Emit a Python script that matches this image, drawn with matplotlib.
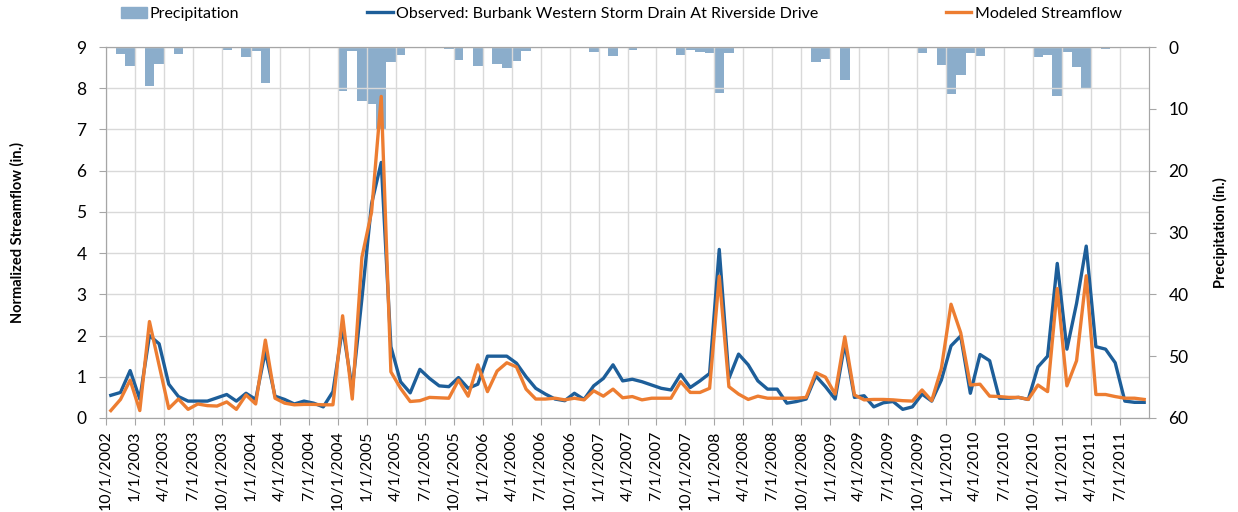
import numpy as np
import matplotlib
matplotlib.use('Agg')
import matplotlib.pyplot as plt
from matplotlib.patches import Patch
from matplotlib.lines import Line2D

plt.rcParams['font.family'] = ['Lato', 'DejaVu Sans']

# monthly values, Oct 2002 .. Sep 2011
observed = [0.55, 0.62, 1.15, 0.46, 2.0, 1.8, 0.82, 0.52, 0.41, 0.41, 0.41, 0.49, 0.57, 0.41, 0.6, 0.45, 1.62, 0.53,
            0.45, 0.34, 0.41, 0.36, 0.27, 0.64, 2.2, 0.7, 2.9, 5.2, 6.2, 1.73, 0.88, 0.61, 1.18, 0.96, 0.78, 0.76,
            0.98, 0.72, 0.82, 1.5, 1.5, 1.5, 1.33, 1.0, 0.72, 0.58, 0.46, 0.42, 0.6, 0.45, 0.78, 0.96, 1.29, 0.9,
            0.94, 0.88, 0.8, 0.72, 0.68, 1.06, 0.74, 0.9, 1.08, 4.09, 0.96, 1.55, 1.29, 0.9, 0.7, 0.7, 0.36, 0.4,
            0.46, 1.02, 0.76, 0.46, 1.81, 0.5, 0.54, 0.27, 0.37, 0.4, 0.21, 0.27, 0.58, 0.41, 0.92, 1.75, 1.99, 0.6,
            1.54, 1.39, 0.48, 0.48, 0.5, 0.45, 1.24, 1.5, 3.75, 1.67, 2.78, 4.17, 1.73, 1.67, 1.34, 0.41, 0.38, 0.38]

modeled = [0.18, 0.45, 0.92, 0.18, 2.34, 1.28, 0.23, 0.46, 0.21, 0.34, 0.3, 0.29, 0.39, 0.21, 0.56, 0.34, 1.89, 0.48,
           0.36, 0.32, 0.33, 0.33, 0.32, 0.32, 2.48, 0.46, 3.9, 5.0, 7.8, 1.12, 0.72, 0.4, 0.42, 0.5, 0.49, 0.48,
           0.92, 0.53, 1.29, 0.64, 1.14, 1.34, 1.24, 0.7, 0.46, 0.46, 0.48, 0.44, 0.48, 0.44, 0.66, 0.53, 0.7, 0.49,
           0.52, 0.44, 0.48, 0.48, 0.48, 0.88, 0.62, 0.62, 0.72, 3.44, 0.76, 0.58, 0.45, 0.53, 0.48, 0.48, 0.48, 0.48,
           0.5, 1.1, 0.99, 0.58, 1.97, 0.56, 0.44, 0.45, 0.45, 0.44, 0.42, 0.41, 0.68, 0.42, 1.2, 2.76, 2.07, 0.8,
           0.82, 0.53, 0.52, 0.5, 0.5, 0.45, 0.8, 0.64, 3.14, 0.78, 1.39, 3.45, 0.57, 0.57, 0.52, 0.48, 0.48, 0.45]

precip = [0.1, 1.19, 3.07, 0, 6.25, 2.8, 0, 1.19, 0.15, 0, 0, 0, 0.54, 0, 1.67, 0.59, 5.77, 0.15,
          0.15, 0, 0, 0, 0, 0, 7.06, 0.65, 8.73, 9.2, 13.3, 2.48, 1.35, 0.05, 0, 0, 0, 0.3,
          2.1, 0.1, 3.07, 0, 2.7, 3.45, 2.3, 0.65, 0, 0, 0, 0.1, 0, 0, 0.75, 0, 1.5, 0,
          0.55, 0, 0, 0, 0, 1.35, 0.5, 0.75, 0.9, 7.5, 1.0, 0.1, 0, 0.1, 0, 0, 0, 0,
          0.2, 2.5, 2.0, 0, 5.4, 0.15, 0, 0, 0, 0, 0, 0, 0.9, 0, 2.9, 7.65, 4.5, 1.0,
          1.4, 0.15, 0, 0, 0, 0, 1.56, 1.3, 8.0, 0.85, 3.3, 6.6, 0, 0.25, 0, 0, 0, 0]

date_labels = ['10/1/2002', '1/1/2003', '4/1/2003', '7/1/2003', '10/1/2003', '1/1/2004', '4/1/2004', '7/1/2004',
               '10/1/2004', '1/1/2005', '4/1/2005', '7/1/2005', '10/1/2005', '1/1/2006', '4/1/2006', '7/1/2006',
               '10/1/2006', '1/1/2007', '4/1/2007', '7/1/2007', '10/1/2007', '1/1/2008', '4/1/2008', '7/1/2008',
               '10/1/2008', '1/1/2009', '4/1/2009', '7/1/2009', '10/1/2009', '1/1/2010', '4/1/2010', '7/1/2010',
               '10/1/2010', '1/1/2011', '4/1/2011', '7/1/2011']

blue = '#1D5E99'
orange = '#ED7D31'
barc = '#8BADCB'
gray = '#A6A6A6'

fig = plt.figure(figsize=(12.38, 5.12), dpi=100)
ax = fig.add_axes([106/1238, 94/512, 1043/1238, 371/512])
ax2 = ax.twinx()

x = np.arange(len(observed)) + 0.5

# precipitation hangs from the top on the right axis
ax2.bar(x, precip, width=1.0, color=barc)
ax2.set_ylim(60, 0)
ax2.set_yticks(range(0, 61, 10))
ax.set_zorder(ax2.get_zorder() + 1)
ax.patch.set_visible(False)

ax.plot(x, observed, color=blue, lw=2.4)
ax.plot(x, modeled, color=orange, lw=2.4)

ax.set_xlim(0, len(observed))
ax.set_ylim(0, 9)
ax.set_yticks(range(10))
ax.set_xticks(np.arange(0, len(observed), 3))
ax.set_xticklabels(date_labels, rotation=90)
ax.grid(True, color='#D9D9D9', lw=1)

for a in (ax, ax2):
    for s in a.spines.values():
        s.set_color(gray)
ax.tick_params(axis='x', length=5, color=gray, labelsize=11.5, pad=4)
ax.tick_params(axis='y', length=5, color=gray, labelsize=12.5, pad=9)
ax2.tick_params(axis='y', length=5, color=gray, labelsize=12.5, pad=9)

ax.set_ylabel('Normalized Streamflow (in.)', fontsize=10.5, fontweight='bold')
ax.yaxis.set_label_coords(-0.078, 0.5)
ax2.set_ylabel('Precipitation (in.)', fontsize=10.5, fontweight='bold', rotation=90)
ax2.yaxis.set_label_coords(1.061, 0.5)

handles = [Patch(color=barc), Line2D([], [], color=blue, lw=2.4), Line2D([], [], color=orange, lw=2.4)]
names = ['Precipitation', 'Observed: Burbank Western Storm Drain At Riverside Drive', 'Modeled Streamflow']
ax.legend(handles, names, loc='center', bbox_to_anchor=(0.494, 1.089), ncol=3, frameon=False,
          fontsize=11.5, columnspacing=8.0, handlelength=1.6, handletextpad=0.2)

fig.savefig('out.png', dpi=100)
